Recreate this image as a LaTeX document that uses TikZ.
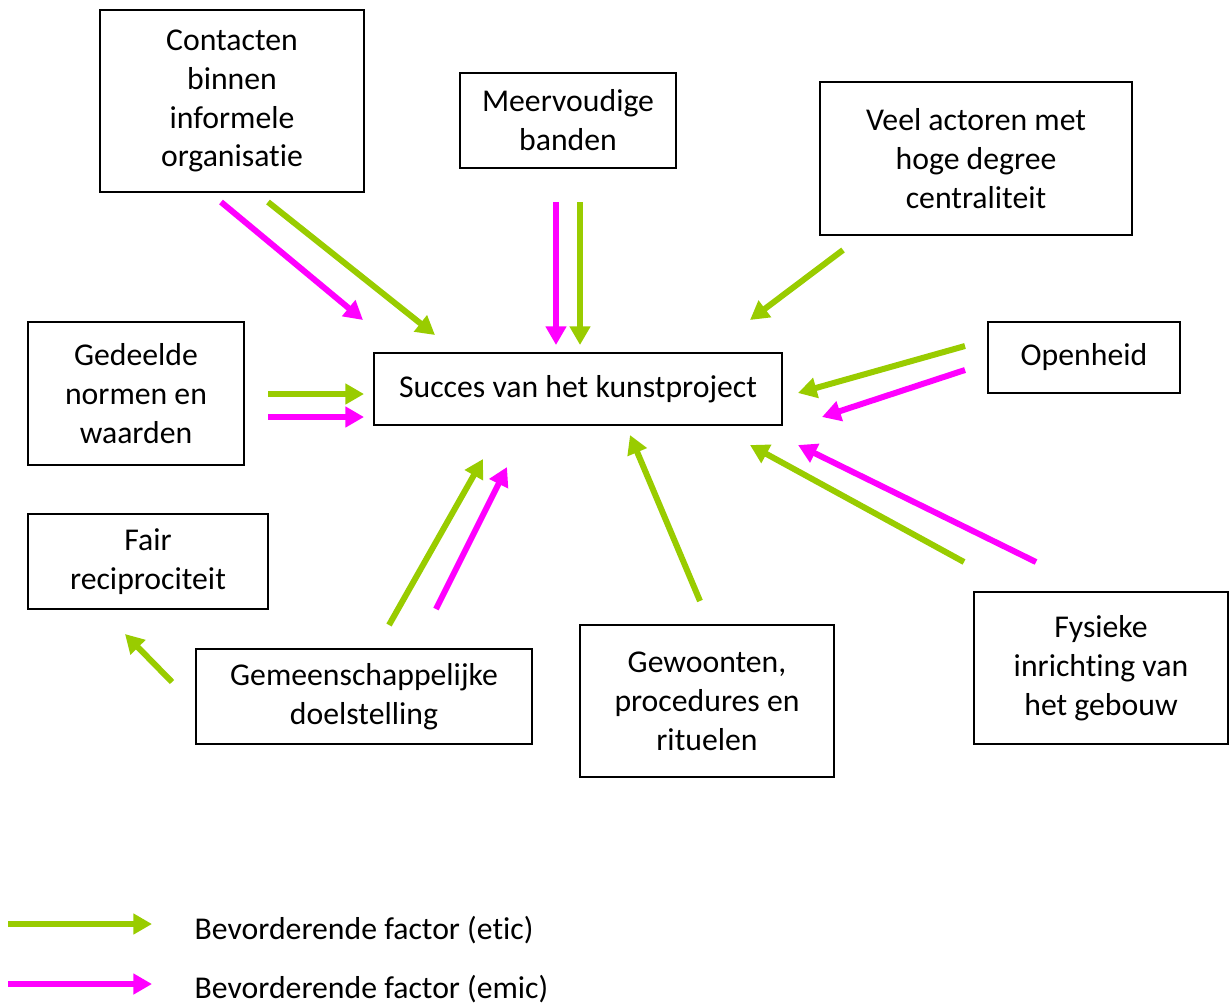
\documentclass[tikz,border=0pt]{standalone}
\usepackage{fontspec}
\setmainfont{Carlito}[Ligatures=NoCommon]
\usetikzlibrary{arrows.meta}
\definecolor{eticgreen}{HTML}{99CC00}
\definecolor{emicpink}{HTML}{FF00FF}
\newcommand{\pxu}{0.75pt}
\begin{document}
\begin{tikzpicture}[x=0.75pt, y=-0.75pt,
    font=\fontsize{23.8}{29.2}\selectfont,
    box/.style={draw, line width=1.3pt, align=center, inner sep=0pt},
    etic/.style={draw=eticgreen, line width=4.5pt, -{Triangle[length=14pt,width=15pt]}},
    emic/.style={draw=emicpink, line width=4.5pt, -{Triangle[length=14pt,width=15pt]}}]
      \useasboundingbox (0,0) rectangle (1230,1004);
      % boxes
      \node[box, minimum width=264*\pxu, minimum height=182*\pxu] (contact) at (232,101) {Contacten\\binnen\\informele\\organisatie};
      \node[box, minimum width=216*\pxu, minimum height=95*\pxu] (banden) at (568,120.5) {Meervoudige\\banden};
      \node[box, minimum width=312*\pxu, minimum height=153*\pxu] (actoren) at (976,158.5) {Veel actoren met\\hoge degree\\centraliteit};
      \node[box, minimum width=408*\pxu, minimum height=72*\pxu] (succes) at (578,389) {Succes van het kunstproject};
      \node[box, minimum width=216*\pxu, minimum height=143*\pxu] (normen) at (136,393.5) {Gedeelde\\normen en\\waarden};
      \node[box, minimum width=192*\pxu, minimum height=71*\pxu] (open) at (1084,357.5) {Openheid};
      \node[box, minimum width=240*\pxu, minimum height=95*\pxu] (fair) at (148,561.5) {Fair\\reciprociteit};
      \node[box, minimum width=336*\pxu, minimum height=95*\pxu] (doel) at (364,696.5) {Gemeenschappelijke\\doelstelling};
      \node[box, minimum width=254*\pxu, minimum height=152*\pxu] (gewoon) at (707,701) {Gewoonten,\\procedures en\\rituelen};
      \node[box, minimum width=254*\pxu, minimum height=152*\pxu] (gebouw) at (1101,668) {Fysieke\\inrichting van\\het gebouw};
      % arrow ends
      \foreach \n/\x/\y in {ct1/221/202, ch1/363/320, ct2/268/202, ch2/435/335,
                            bt1/556/202, bh1/556/345, bt2/580/202, bh2/580/345,
                            at2/843/250, ah2/750/320,
                            ot2/965/346, oh2/798/393, ot1/965/370, oh1/822/417,
                            nt2/268/394, nh2/364/394, nt1/268/417, nh1/364/417,
                            dt2/389/625, dh2/483/459, dt1/436/609, dh1/507/467,
                            wt2/700/601, wh2/630/435,
                            gt2/964/562, gh2/750/445, gt1/1036/562, gh1/798/445,
                            ft2/172/682, fh2/125/634,
                            le1/8/924, le2/152/924, lm1/8/984, lm2/152/984} {
        \coordinate (\n) at (\x,\y);
      }
      % etic
      \foreach \s/\e in {ct2/ch2, bt2/bh2, at2/ah2, ot2/oh2, nt2/nh2, dt2/dh2, wt2/wh2, gt2/gh2, ft2/fh2, le1/le2} {
        \draw[etic] (\s) -- (\e);
      }
      % emic
      \foreach \s/\e in {ct1/ch1, bt1/bh1, ot1/oh1, nt1/nh1, dt1/dh1, gt1/gh1, lm1/lm2} {
        \draw[emic] (\s) -- (\e);
      }
      % legend
      \node[anchor=west] (etictext) at (190,930) {Bevorderende factor (etic)};
      \node[anchor=west] (emictext) at (190,989) {Bevorderende factor (emic)};
\end{tikzpicture}
\end{document}
